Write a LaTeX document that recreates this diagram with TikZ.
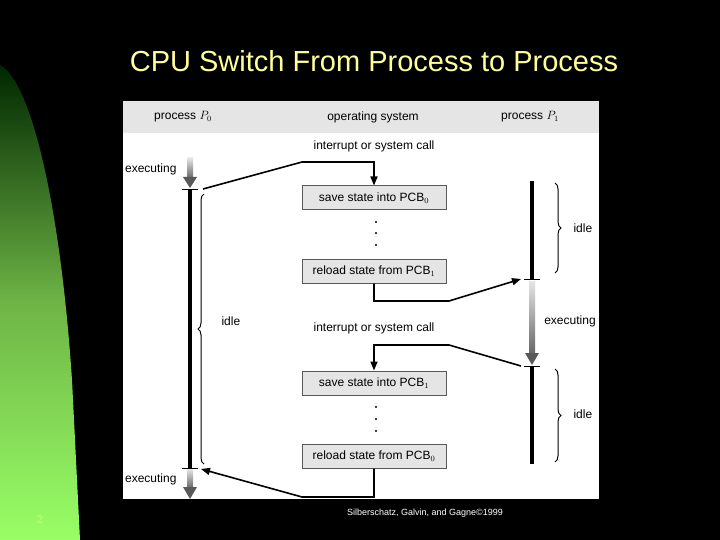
\documentclass[tikz,border=0pt]{standalone}
\usepackage{fontspec}
\setmainfont{Liberation Sans}
\usetikzlibrary{decorations.pathreplacing,arrows.meta}
\begin{document}
\begin{tikzpicture}[x=1pt,y=-1pt,
  lbl/.style={font=\fontsize{12}{14}\selectfont},
  box/.style={draw=gray!70!black,fill=gray!20,line width=1pt,minimum width=144pt,minimum height=24pt,inner sep=0pt,font=\fontsize{12}{14}\selectfont},
  conn/.style={line width=1.6pt,-{Triangle[length=9pt,width=7pt]}},
  tl/.style={line width=3.5pt},
  br/.style={decorate,decoration={brace,amplitude=6pt},line width=1pt},
  ex/.style={draw=none,top color=gray!20,bottom color=gray!80!black}]
\useasboundingbox (0,0) rectangle (720,540);
\fill[black] (0,0) rectangle (720,540);
\shade[top color=black!85!green,bottom color={rgb,255:red,153;green,255;blue,102},middle color={rgb,255:red,110;green,180;blue,70}]
  (0,65) .. controls (30,80) and (60,200) .. (72,380) -- (80,540) -- (0,540) -- cycle;
\node[text={rgb,255:red,255;green,255;blue,153},font=\fontsize{29}{32}\selectfont] (title) at (374,61) {CPU Switch From Process to Process};
\fill[white] (123,101) rectangle (599,499);
\fill[gray!20] (123,101) rectangle (599,133);
\node[lbl] (h0) at (183,117) {process $P_0$};
\node[lbl] (h1) at (373,117) {operating system};
\node[lbl] (h2) at (530,117) {process $P_1$};
% P0 timeline
\shade[ex] (187,158) rectangle (193,178);
\fill[gray!70!black] (183,177) -- (197,177) -- (190,188) -- cycle;
\draw[line width=0.8pt] (182,189) -- (198,189);
\draw[tl] (190,189) -- (190,468);
\draw[line width=0.8pt] (182,468) -- (198,468);
\shade[ex] (187,469) rectangle (193,488);
\fill[gray!70!black] (183,487) -- (197,487) -- (190,499) -- cycle;
\node[lbl,anchor=east] (e0) at (180,169) {executing};
\node[lbl,anchor=east] (e1) at (180,479) {executing};
\draw[br] (204,464) -- (204,194);
\node[lbl,anchor=west] (i0) at (218,321) {idle};
% P1 timeline
\draw[tl] (532,181) -- (532,279);
\draw[line width=0.8pt] (524,279) -- (540,279);
\shade[ex] (529,281) rectangle (535,354);
\fill[gray!70!black] (525,353) -- (539,353) -- (532,365) -- cycle;
\draw[line width=0.8pt] (524,366) -- (540,366);
\draw[tl] (532,366) -- (532,464);
\draw[br] (555,183) -- (555,273);
\node[lbl,anchor=west] (i1) at (570,228) {idle};
\node[lbl] (e2) at (570,321) {executing};
\draw[br] (555,369) -- (555,462);
\node[lbl,anchor=west] (i2) at (570,414) {idle};
% OS
\node[lbl] (int1) at (374,146) {interrupt or system call};
\node[box] (b1) at (374,198) {save state into PCB$_0$};
\node[box] (b2) at (374,271) {reload state from PCB$_1$};
\node[lbl] (int2) at (374,328) {interrupt or system call};
\node[box] (b3) at (374,383) {save state into PCB$_1$};
\node[box] (b4) at (374,456) {reload state from PCB$_0$};
\foreach \y in {222,233,245,407,419,431} \fill (376,\y) circle (1.2pt);
\coordinate (s0) at (203,189);
\coordinate (t1) at (521,279);
\coordinate (s1) at (521,366);
\coordinate (t0) at (201,469);
\draw[conn] (s0) -- (302,162) -- (b1.north |- 0,162) -- (b1.north);
\draw[conn] (b2.south) -- (b2.south |- 0,301) -- (449,301) -- (t1);
\draw[conn] (s1) -- (449,345) -- (b3.north |- 0,345) -- (b3.north);
\draw[conn] (b4.south) -- (b4.south |- 0,497) -- (302,497) -- (t0);
\node[white,font=\fontsize{9}{10}\selectfont] (foot) at (425,513) {Silberschatz, Galvin, and Gagne\textcopyright 1999};
\node[text={rgb,255:red,200;green,255;blue,120},font=\fontsize{11}{12}\selectfont] (pg) at (40,520) {2};
\end{tikzpicture}
\end{document}
